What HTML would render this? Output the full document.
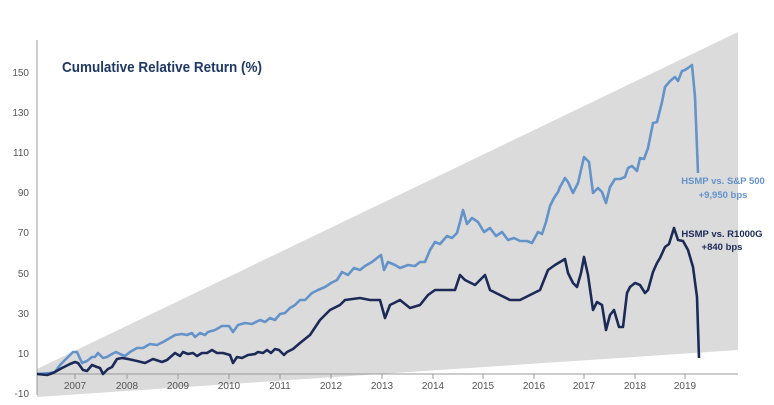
<!DOCTYPE html>
<html><head><meta charset="utf-8"><style>
html,body{margin:0;padding:0;background:#fff;}
svg{display:block;font-family:"Liberation Sans",sans-serif;}
</style></head><body>
<svg width="774" height="405" viewBox="0 0 774 405">
<polygon points="37,369 738,32 738,350 37,397" fill="#dcdbdc"/>
<rect x="0" y="0" width="36" height="405" fill="#fff"/>
<line x1="37" y1="40" x2="37" y2="395" stroke="#999" stroke-width="1"/>
<line x1="37" y1="374" x2="738" y2="374" stroke="#999" stroke-width="1"/>
<g stroke="#999" stroke-width="1">
<line x1="75" y1="374" x2="75" y2="379"/><line x1="127" y1="374" x2="127" y2="379"/><line x1="178" y1="374" x2="178" y2="379"/><line x1="229" y1="374" x2="229" y2="379"/><line x1="280" y1="374" x2="280" y2="379"/><line x1="331" y1="374" x2="331" y2="379"/><line x1="382" y1="374" x2="382" y2="379"/><line x1="433" y1="374" x2="433" y2="379"/><line x1="483" y1="374" x2="483" y2="379"/><line x1="534" y1="374" x2="534" y2="379"/><line x1="584" y1="374" x2="584" y2="379"/><line x1="635" y1="374" x2="635" y2="379"/><line x1="685" y1="374" x2="685" y2="379"/>
</g>
<g font-size="10" fill="#555" text-anchor="end">
<text x="29" y="76">150</text><text x="29" y="116">130</text><text x="29" y="156">110</text><text x="29" y="196">90</text><text x="29" y="236">70</text><text x="29" y="277">50</text><text x="29" y="317">30</text><text x="29" y="357">10</text><text x="29" y="397">-10</text>
</g>
<g font-size="10" fill="#555" text-anchor="middle">
<text x="75" y="389">2007</text><text x="127" y="389">2008</text><text x="178" y="389">2009</text><text x="229" y="389">2010</text><text x="280" y="389">2011</text><text x="331" y="389">2012</text><text x="382" y="389">2013</text><text x="433" y="389">2014</text><text x="483" y="389">2015</text><text x="534" y="389">2016</text><text x="584" y="389">2017</text><text x="635" y="389">2018</text><text x="685" y="389">2019</text>
</g>
<text x="62" y="72" font-size="15" font-weight="bold" fill="#1f3864" textLength="200" lengthAdjust="spacingAndGlyphs">Cumulative Relative Return (%)</text>
<polyline fill="none" stroke="#6393c9" stroke-width="2.6" stroke-linejoin="round" points="37,374 50,373 55,372 60,365 67,358 73,352 77,352 82,363 87,361 92,357 95,357 98,353 103,358 107,357 112,354 116,352 120,354 125,356 130,352 137,348 143,348 150,344 157,345 163,342 170,338 175,335 182,334 187,335 192,333 195,337 200,333 205,335 208,332 215,330 222,326 229,326 233,332 238,325 245,323 252,324 260,320 265,322 270,318 275,320 280,314 285,313 290,308 295,305 300,300 305,300 312,293 318,290 325,287 331,283 337,280 342,272 348,275 354,268 360,270 365,266 372,262 377,258 381,255 384,270 388,262 395,265 400,268 408,265 415,266 420,262 425,262 430,250 435,242 440,244 447,236 452,238 457,233 460,222 463,210 467,224 472,218 478,222 484,232 490,228 496,236 502,232 508,240 514,238 520,241 527,241 532,243 538,232 542,234 546,222 550,206 554,198 558,192 560,187 565,178 568,182 573,193 578,183 584,157 589,162 593,193 598,188 602,192 606,203 610,187 615,179 620,179 625,177 628,168 632,166 637,171 640,158 644,159 648,148 653,123 657,122 662,102 665,87 670,81 675,77 678,81 682,71 685,70 688,68 692,65 695,97 698,173"/>
<polyline fill="none" stroke="#1b2a57" stroke-width="2.6" stroke-linejoin="round" points="37,374 47,375 53,373 62,368 70,364 75,362 78,363 83,370 87,371 92,365 97,367 100,368 103,374 108,369 112,367 117,359 122,358 128,359 137,361 145,363 153,359 162,362 167,360 175,353 180,356 183,352 188,354 193,353 197,356 202,353 207,353 212,350 217,353 223,353 230,355 233,363 237,357 242,358 248,355 255,354 258,352 263,353 267,350 271,353 275,349 279,350 284,355 287,352 293,349 300,343 310,335 320,320 330,310 340,305 345,300 360,298 370,300 380,300 385,318 390,305 400,300 410,308 420,305 428,295 435,290 445,290 455,290 460,275 465,280 475,285 485,275 490,290 500,295 510,300 520,300 530,295 540,290 548,270 555,265 560,262 565,259 568,273 573,283 577,287 581,273 584,257 588,275 593,310 597,302 602,305 606,330 610,315 614,310 619,327 623,327 627,293 630,287 635,283 640,285 645,293 648,290 653,272 657,263 660,258 665,247 669,244 674,228 678,240 683,241 688,250 693,267 697,297 699,358"/>
<g font-size="9.5" font-weight="bold" text-anchor="middle">
<text x="723" y="184" fill="#6393c9">HSMP vs. S&amp;P 500</text>
<text x="723" y="198" fill="#6393c9">+9,950 bps</text>
<text x="722" y="237" fill="#1b2a57">HSMP vs. R1000G</text>
<text x="722" y="250" fill="#1b2a57">+840 bps</text>
</g>
</svg>
</body></html>
